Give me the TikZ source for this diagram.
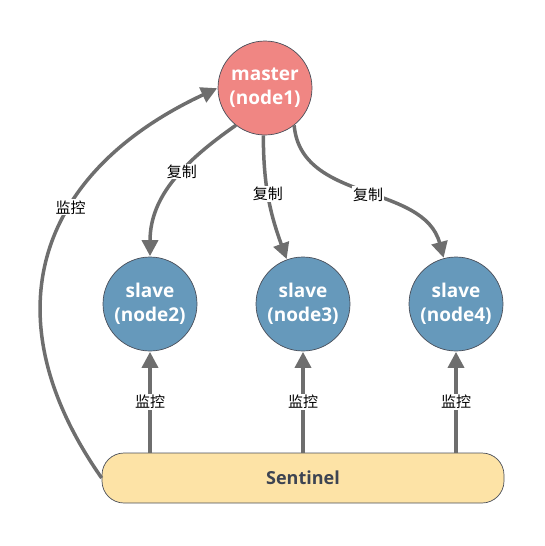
\documentclass[tikz,border=0pt]{standalone}
\usepackage{fontspec}
\setmainfont{Open Sans}
\newfontfamily\cjk{Noto Sans CJK SC}
\usepackage{tikz}
\usetikzlibrary{arrows.meta}
\definecolor{masterred}{HTML}{F08683}
\definecolor{slaveblue}{HTML}{6699BB}
\definecolor{sentyellow}{HTML}{FDE3A6}
\definecolor{rimgray}{HTML}{4A4F5A}
\definecolor{linkgray}{HTML}{6E6E6E}
\definecolor{textgray}{HTML}{3D4452}

\begin{document}
\begin{tikzpicture}[->,>={Triangle[width=16pt,length=16pt]},shorten >=0.5pt,x=1pt,y=1pt,
  master/.style={circle,draw=rimgray,line width=0.7pt,fill=masterred,minimum size=94pt,inner sep=0pt,align=center,text=white,font=\bfseries\fontsize{19}{24}\selectfont},
  slave/.style={master,fill=slaveblue},
  sentinel/.style={rectangle,rounded corners=22pt,draw=rimgray,line width=0.7pt,fill=sentyellow,minimum width=402pt,minimum height=50pt,text=textgray,font=\bfseries\fontsize{18}{22}\selectfont},
  link/.style={draw=linkgray,line width=3.5pt},
  lbl/.style={fill=white,inner sep=1pt,text=black,font=\cjk\fontsize{15}{15}\selectfont}]
  \useasboundingbox (0,0) rectangle (545,-546);

  \node [master] (m) at (265,-88) {master\\(node1)};
  \node [slave] (s2) at (150,-304) {slave\\(node2)};
  \node [slave] (s3) at (303,-304) {slave\\(node3)};
  \node [slave] (s4) at (456,-304) {slave\\(node4)};
  \node [sentinel] (sen) at (303,-478) {Sentinel};

  \path (m.232) edge [link,out=215,in=90] node [lbl,pos=0.42] {复制} (s2);
  \path (m.268) edge [link,out=-90,in=110] node [lbl,pos=0.46] {复制} (s3);
  \path (m.-52) edge [link,out=-85,in=105] node [lbl,pos=0.52] {复制} (s4);

  \path (s2 |- sen.north) edge [link] node [lbl] {监控} (s2);
  \path (s3 |- sen.north) edge [link] node [lbl] {监控} (s3);
  \path (s4 |- sen.north) edge [link] node [lbl] {监控} (s4);

  \path (sen.west) edge [link,out=125,in=205,looseness=1.25] node [lbl,pos=0.62] {监控} (m.west);
\end{tikzpicture}
\end{document}
